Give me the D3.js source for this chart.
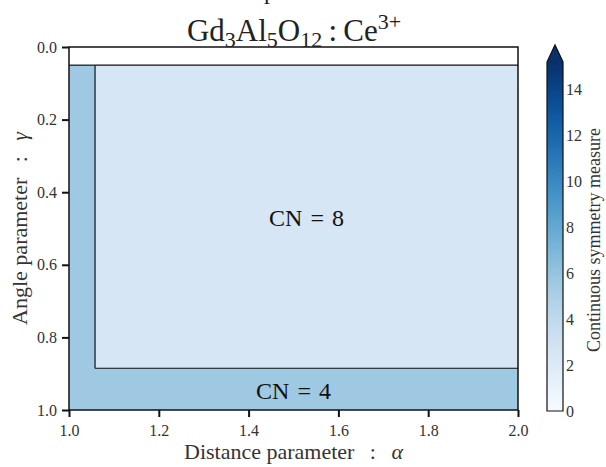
<!DOCTYPE html>
<html>
<head>
<meta charset="utf-8">
<script src="https://cdn.jsdelivr.net/npm/d3@7"></script>
<style>
  body { margin: 0; background: #fff; }
  svg text { font-family: "Liberation Serif", "Times New Roman", serif; white-space: pre; }
</style>
</head>
<body>
<div id="chart"></div>
<script>
// cell edges along each parameter
var alphaEdges = [1.0, 1.058, 2.0];
var gammaEdges = [0.0, 0.05, 0.885, 1.0];
// coordination number per cell, rows = gamma bands, cols = alpha bands
var cnGrid = [[null, null], [4, 8], [4, 4]];
// continuous symmetry measure per cell
var csmGrid = [[null, null], [5.6, 2.5], [5.6, 5.6]];
var xTicks = [1.0, 1.2, 1.4, 1.6, 1.8, 2.0];
var yTicks = [0.0, 0.2, 0.4, 0.6, 0.8, 1.0];
var cbTicks = [0, 2, 4, 6, 8, 10, 12, 14];
var cbMax = 15.2;
var regionLabels = [
  {cn: 8, alpha: 1.529, gamma: 0.47},
  {cn: 4, alpha: 1.5, gamma: 0.947}
];

var width = 606, height = 467;
var mLeft = 69, mRight = 518, mTop = 47, mBottom = 410;

var svg = d3.select("#chart").append("svg")
  .attr("width", width)
  .attr("height", height);

var x = d3.scaleLinear().domain([1, 2]).range([mLeft, mRight]);
var y = d3.scaleLinear().domain([0, 1]).range([mTop, mBottom]);
var color = d3.scaleSequential(d3.interpolateBlues).domain([0, cbMax]);

// cells
var cells = [];
cnGrid.forEach(function(row, i) {
  row.forEach(function(cn, j) {
    cells.push({i: i, j: j, cn: cn, csm: csmGrid[i][j]});
  });
});
svg.append("g").selectAll("rect")
  .data(cells.filter(function(d) { return d.cn != null; }))
  .enter().append("rect")
    .attr("x", function(d) { return x(alphaEdges[d.j]); })
    .attr("y", function(d) { return y(gammaEdges[d.i]); })
    .attr("width", function(d) { return x(alphaEdges[d.j + 1]) - x(alphaEdges[d.j]); })
    .attr("height", function(d) { return y(gammaEdges[d.i + 1]) - y(gammaEdges[d.i]); })
    .attr("fill", function(d) { return color(d.csm); })
    .attr("shape-rendering", "crispEdges");

// region boundaries where the coordination number changes
var segs = [];
cnGrid.forEach(function(row, i) {
  row.forEach(function(cn, j) {
    if (j + 1 < row.length && row[j + 1] !== cn)
      segs.push([alphaEdges[j + 1], gammaEdges[i], alphaEdges[j + 1], gammaEdges[i + 1]]);
    if (i + 1 < cnGrid.length && cnGrid[i + 1][j] !== cn)
      segs.push([alphaEdges[j], gammaEdges[i + 1], alphaEdges[j + 1], gammaEdges[i + 1]]);
  });
});
svg.append("g").selectAll("line")
  .data(segs)
  .enter().append("line")
    .attr("x1", function(d) { return x(d[0]); })
    .attr("y1", function(d) { return y(d[1]); })
    .attr("x2", function(d) { return x(d[2]); })
    .attr("y2", function(d) { return y(d[3]); })
    .attr("stroke", "#111")
    .attr("stroke-width", 1.2);

// region labels (CN = n, with math-style spacing round "=")
svg.append("g").selectAll("text")
  .data(regionLabels)
  .enter().append("text")
    .attr("x", function(d) { return x(d.alpha); })
    .attr("y", function(d) { return y(d.gamma); })
    .attr("dy", "0.35em")
    .attr("text-anchor", "middle")
    .attr("font-size", 24)
    .attr("fill", "#111")
    .text(function(d) { return "CN\u2004=\u2004" + d.cn; });

// frame
svg.append("rect")
  .attr("x", mLeft).attr("y", mTop)
  .attr("width", mRight - mLeft).attr("height", mBottom - mTop)
  .attr("fill", "none").attr("stroke", "#111").attr("stroke-width", 1.5);

// axes
var xAxis = svg.append("g")
  .attr("transform", "translate(0," + mBottom + ")")
  .call(d3.axisBottom(x).tickValues(xTicks).tickFormat(d3.format(".1f")).tickSize(7).tickPadding(8));
var yAxis = svg.append("g")
  .attr("transform", "translate(" + mLeft + ",0)")
  .call(d3.axisLeft(y).tickValues(yTicks).tickFormat(d3.format(".1f")).tickSize(7).tickPadding(5));
[xAxis, yAxis].forEach(function(a) {
  a.select(".domain").remove();
  a.selectAll(".tick line").attr("stroke", "#111").attr("stroke-width", 2);
  a.selectAll(".tick text")
    .attr("font-family", "Liberation Serif, serif")
    .attr("font-size", 16)
    .attr("fill", "#333");
});

// axis labels
var xl = svg.append("text")
  .attr("x", (mLeft + mRight) / 2).attr("y", 459)
  .attr("text-anchor", "middle").attr("font-size", 22).attr("fill", "#333");
xl.append("tspan").text("Distance parameter\u2002\u2009:\u2002\u2009");
xl.append("tspan").attr("font-style", "italic").text("α");
var yl = svg.append("text")
  .attr("transform", "translate(27," + ((mTop + mBottom) / 2) + ") rotate(-90)")
  .attr("text-anchor", "middle").attr("font-size", 22).attr("fill", "#333");
yl.append("tspan").text("Angle parameter\u2002\u2009:\u2002\u2009");
yl.append("tspan").attr("font-style", "italic").text("γ");

// title
var title = svg.append("text")
  .attr("x", 294).attr("y", 41)
  .attr("text-anchor", "middle").attr("font-size", 31).attr("fill", "#222");
title.append("tspan").text("Gd");
title.append("tspan").attr("font-size", 22).attr("dy", 6).text("3");
title.append("tspan").attr("dy", -6).text("Al");
title.append("tspan").attr("font-size", 22).attr("dy", 6).text("5");
title.append("tspan").attr("dy", -6).text("O");
title.append("tspan").attr("font-size", 22).attr("dy", 6).text("12");
title.append("tspan").attr("dy", -6).text("\u2009:\u2009Ce");
title.append("tspan").attr("font-size", 22).attr("dy", -12).text("3+");

// clipped suptitle remnant above the title
svg.append("text")
  .attr("x", 270).attr("y", -1)
  .attr("text-anchor", "middle").attr("font-size", 24).attr("fill", "#222")
  .text("p");

// colorbar
var cbLeft = 547, cbRight = 563, cbTop = 62, cbBottom = 411, cbTip = 45;
var cbY = d3.scaleLinear().domain([0, cbMax]).range([cbBottom, cbTop]);
var defs = svg.append("defs");
var grad = defs.append("linearGradient").attr("id", "cbgrad")
  .attr("x1", 0).attr("y1", 1).attr("x2", 0).attr("y2", 0);
d3.range(0, 1.0001, 0.05).forEach(function(t) {
  grad.append("stop").attr("offset", t).attr("stop-color", color(t * cbMax));
});
svg.append("rect")
  .attr("x", cbLeft).attr("y", cbTop)
  .attr("width", cbRight - cbLeft).attr("height", cbBottom - cbTop)
  .attr("fill", "url(#cbgrad)");
svg.append("path")
  .attr("d", "M" + cbLeft + "," + cbTop + "L" + ((cbLeft + cbRight) / 2) + "," + cbTip + "L" + cbRight + "," + cbTop + "Z")
  .attr("fill", d3.interpolateBlues(1));
svg.append("path")
  .attr("d", "M" + cbLeft + "," + cbTop + "L" + ((cbLeft + cbRight) / 2) + "," + cbTip + "L" + cbRight + "," + cbTop +
        "L" + cbRight + "," + cbBottom + "L" + cbLeft + "," + cbBottom + "Z")
  .attr("fill", "none").attr("stroke", "#111").attr("stroke-width", 1.2);
var cbAxis = svg.append("g")
  .attr("transform", "translate(" + cbRight + ",0)")
  .call(d3.axisRight(cbY).tickValues(cbTicks).tickSize(0).tickPadding(3));
cbAxis.select(".domain").remove();
cbAxis.selectAll(".tick text")
  .attr("font-family", "Liberation Serif, serif")
  .attr("font-size", 16).attr("fill", "#333");
svg.append("text")
  .attr("transform", "translate(600,240) rotate(-90)")
  .attr("text-anchor", "middle").attr("font-size", 18).attr("fill", "#333")
  .text("Continuous symmetry measure");
</script>
</body>
</html>
